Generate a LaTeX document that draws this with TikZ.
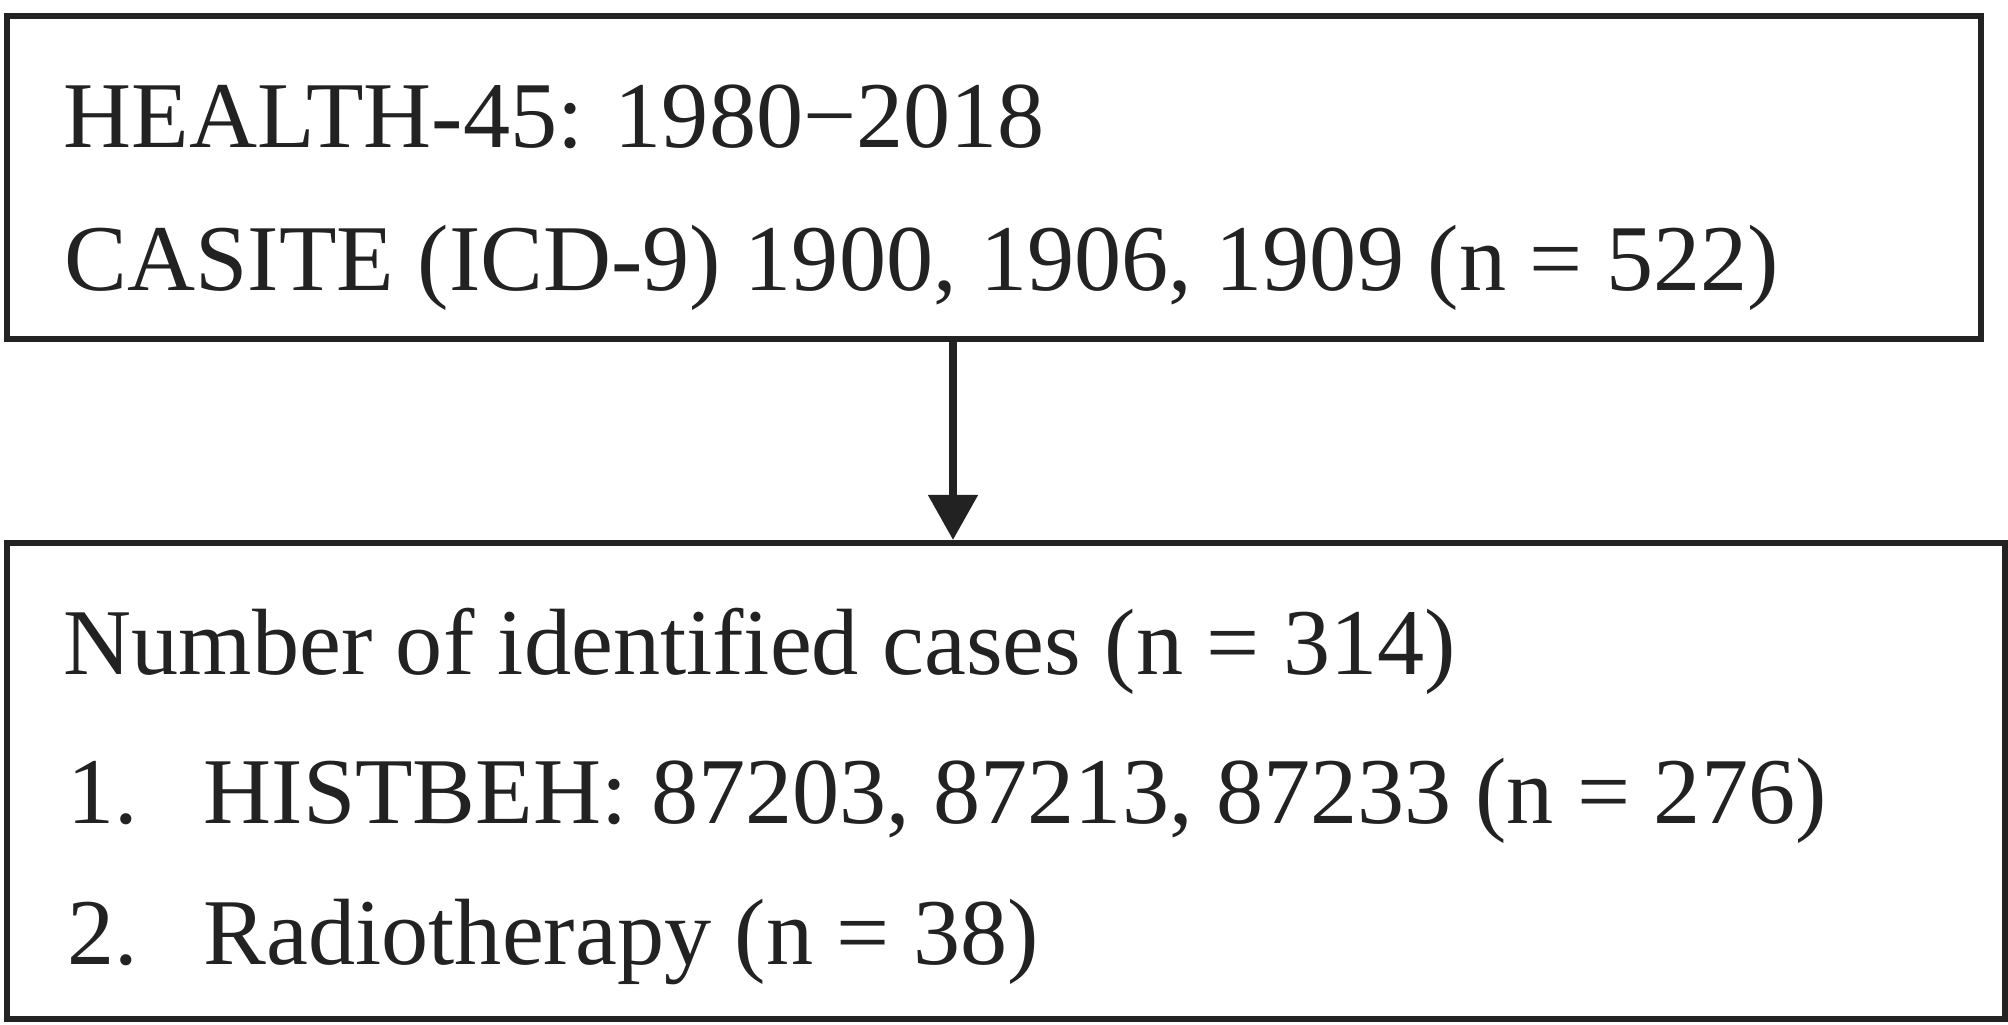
\documentclass[tikz,border=0pt]{standalone}
\usepackage{fontspec}
\setmainfont{Liberation Serif}
\usetikzlibrary{arrows.meta}
\definecolor{darkgray}{RGB}{34, 34, 34}
\tikzstyle{casebox}=[draw=darkgray,line width=0.06cm,inner sep=0pt,anchor=north west]
\tikzstyle{boxline}=[anchor=base west,inner sep=0pt,text=darkgray,font=\fontsize{26.8}{31}\selectfont]
\tikzstyle{downarc}=[-{Triangle[width=0.48cm,length=0.45cm]},line width=0.08cm,darkgray]

\begin{document}
\begin{tikzpicture}
\useasboundingbox (0,0) rectangle (20.08,10.25);

\node[casebox,minimum width=19.74cm,minimum height=3.23cm] (B1) at (0.04,10.12) {};
\node[casebox,minimum width=19.98cm,minimum height=4.76cm] (B2) at (0.04,4.85) {};

\node[boxline] (L1) at (0.63,8.77) {HEALTH-45: 1980−2018};
\node[boxline] (L2) at (0.64,7.34) {CASITE (ICD-9) 1900, 1906, 1909 (n = 522)};
\node[boxline] (L3) at (0.63,3.50) {Number of identified cases (n = 314)};
\node[boxline] (N1) at (0.67,2.01) {1.};
\node[boxline] (L4) at (2.03,2.01) {HISTBEH: 87203, 87213, 87233 (n = 276)};
\node[boxline] (N2) at (0.67,0.60) {2.};
\node[boxline] (L5) at (2.03,0.60) {Radiotherapy (n = 38)};

\coordinate (ARROWX) at (9.53,0);
\draw[downarc] (B1.south -| ARROWX) -- (B2.north -| ARROWX);

\end{tikzpicture}
\end{document}
